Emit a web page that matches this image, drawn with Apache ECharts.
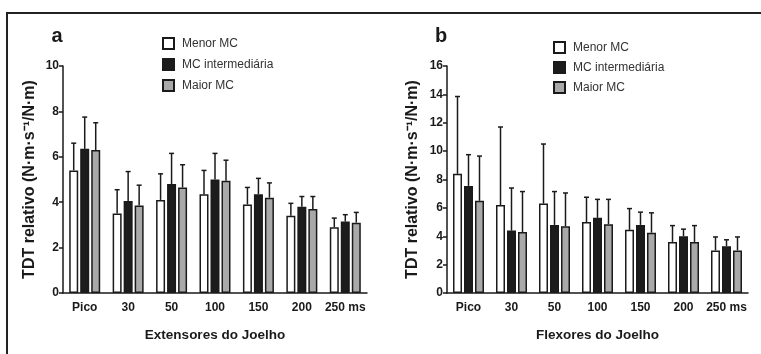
<!DOCTYPE html>
<html>
<head>
<meta charset="utf-8">
<script src="https://cdn.jsdelivr.net/npm/echarts@6/dist/echarts.min.js"></script>
<style>
  html, body { margin: 0; padding: 0; background: #fff; }
  #chart { width: 761px; height: 354px; }
</style>
</head>
<body>
<div id="chart"></div>
<script>
// categories and group names
const categories = ['Pico', '30', '50', '100', '150', '200', '250 ms'];
const groups = ['Menor MC', 'MC intermediária', 'Maior MC'];

// a: Extensores do Joelho (mean, SD)
const extMenor = [5.4, 3.5, 4.1, 4.35, 3.9, 3.4, 2.9];
const extMenorSD = [1.2, 1.05, 1.15, 1.05, 0.75, 0.55, 0.4];
const extInter = [6.35, 4.05, 4.8, 5.0, 4.35, 3.8, 3.15];
const extInterSD = [1.4, 1.3, 1.35, 1.15, 0.7, 0.45, 0.3];
const extMaior = [6.3, 3.85, 4.65, 4.95, 4.2, 3.7, 3.1];
const extMaiorSD = [1.2, 0.9, 1.0, 0.9, 0.65, 0.55, 0.45];

// b: Flexores do Joelho (mean, SD)
const flexMenor = [8.4, 6.2, 6.3, 5.0, 4.45, 3.6, 3.0];
const flexMenorSD = [5.45, 5.5, 4.2, 1.75, 1.5, 1.15, 0.95];
const flexInter = [7.55, 4.4, 4.8, 5.3, 4.8, 4.0, 3.3];
const flexInterSD = [2.2, 3.0, 2.35, 1.3, 0.9, 0.5, 0.45];
const flexMaior = [6.5, 4.3, 4.7, 4.85, 4.25, 3.6, 3.0];
const flexMaiorSD = [3.15, 2.85, 2.35, 1.75, 1.4, 1.15, 0.95];

const fills = ['#ffffff', '#1c1c1c', '#a9a9a9'];
const BAR_W = 9;
const BAR_GAP = 2;
const FONT = '"Liberation Sans", Arial, sans-serif';
const INK = '#1a1a1a';

const chart = echarts.init(document.getElementById('chart'), null, { renderer: 'canvas' });

function barSeries(name, idx, data, axisIdx) {
  return {
    name,
    type: 'bar',
    xAxisIndex: axisIdx,
    yAxisIndex: axisIdx,
    data,
    barWidth: BAR_W,
    barGap: (BAR_GAP / BAR_W * 100) + '%',
    itemStyle: { color: fills[idx], borderColor: INK, borderWidth: 1.5 },
    emphasis: { disabled: true },
    z: 2,
  };
}

function errSeries(name, idx, means, sds, axisIdx) {
  const offset = (idx - 1) * (BAR_W + BAR_GAP);
  return {
    name,
    type: 'custom',
    xAxisIndex: axisIdx,
    yAxisIndex: axisIdx,
    data: means.map((m, i) => [i, m, m + sds[i]]),
    encode: { x: 0, y: [1, 2] },
    z: 1,
    renderItem(params, api) {
      const lo = api.coord([api.value(0), api.value(1)]);
      const hi = api.coord([api.value(0), api.value(2)]);
      const x = lo[0] + offset;
      const style = { stroke: INK, lineWidth: 1.5 };
      return {
        type: 'group',
        children: [
          { type: 'line', shape: { x1: x, y1: lo[1], x2: x, y2: hi[1] }, style },
          { type: 'line', shape: { x1: x - 2.5, y1: hi[1], x2: x + 2.5, y2: hi[1] }, style },
        ],
      };
    },
  };
}

const yName = 'TDT relativo (N·m·s⁻¹/N·m)';

function xAxis(gridIndex, name) {
  return {
    type: 'category',
    gridIndex,
    data: categories,
    name,
    nameLocation: 'middle',
    nameGap: 35,
    nameTextStyle: { fontFamily: FONT, fontWeight: 'bold', fontSize: 13.5, color: INK },
    axisLine: { lineStyle: { color: INK, width: 1.5 } },
    axisTick: { show: false },
    axisLabel: { fontFamily: FONT, fontWeight: 'bold', fontSize: 12, color: INK, margin: 9, interval: 0 },
  };
}

function yAxis(gridIndex, max, gap) {
  return {
    type: 'value',
    gridIndex,
    min: 0,
    max,
    interval: 2,
    name: yName,
    nameLocation: 'middle',
    nameGap: gap,
    nameTextStyle: { fontFamily: FONT, fontWeight: 'bold', fontSize: 16, color: INK },
    axisLine: { show: true, lineStyle: { color: INK, width: 1.5 } },
    axisTick: { show: true, length: 4, lineStyle: { color: INK, width: 1.5 } },
    axisLabel: { fontFamily: FONT, fontWeight: 'bold', fontSize: 12, color: INK, margin: 4 },
    splitLine: { show: false },
  };
}

function legend(left, top, gap) {
  return {
    orient: 'vertical',
    left,
    top,
    padding: 0,
    itemWidth: 11,
    itemHeight: 11,
    itemGap: gap,
    icon: 'rect',
    selectedMode: false,
    data: groups,
    textStyle: { fontFamily: FONT, fontSize: 12, color: '#333', lineHeight: 11, padding: [0, 0, 0, 3] },
  };
}

const option = {
  animation: false,
  backgroundColor: '#fff',
  grid: [
    { left: 63, width: 304, top: 66, height: 227 },
    { left: 447, width: 301, top: 66, height: 227 },
  ],
  legend: [legend(162, 37, 8), legend(553, 41, 7)],
  xAxis: [xAxis(0, 'Extensores do Joelho'), xAxis(1, 'Flexores do Joelho')],
  yAxis: [yAxis(0, 10, 25), yAxis(1, 16, 26)],
  series: [
    barSeries(groups[0], 0, extMenor, 0),
    barSeries(groups[1], 1, extInter, 0),
    barSeries(groups[2], 2, extMaior, 0),
    errSeries(groups[0], 0, extMenor, extMenorSD, 0),
    errSeries(groups[1], 1, extInter, extInterSD, 0),
    errSeries(groups[2], 2, extMaior, extMaiorSD, 0),
    barSeries(groups[0], 0, flexMenor, 1),
    barSeries(groups[1], 1, flexInter, 1),
    barSeries(groups[2], 2, flexMaior, 1),
    errSeries(groups[0], 0, flexMenor, flexMenorSD, 1),
    errSeries(groups[1], 1, flexInter, flexInterSD, 1),
    errSeries(groups[2], 2, flexMaior, flexMaiorSD, 1),
  ],
  graphic: [
    // frame: top and left rules
    { type: 'line', shape: { x1: 6, y1: 13, x2: 761, y2: 13 }, style: { stroke: '#222', lineWidth: 2 } },
    { type: 'line', shape: { x1: 7, y1: 12, x2: 7, y2: 354 }, style: { stroke: '#222', lineWidth: 2 } },
    { type: 'text', x: 57, y: 36, style: { text: 'a', font: 'bold 20px ' + FONT, fill: INK, align: 'center', verticalAlign: 'middle' } },
    { type: 'text', x: 441, y: 36, style: { text: 'b', font: 'bold 20px ' + FONT, fill: INK, align: 'center', verticalAlign: 'middle' } },
  ],
};

chart.setOption(option);
</script>
</body>
</html>
